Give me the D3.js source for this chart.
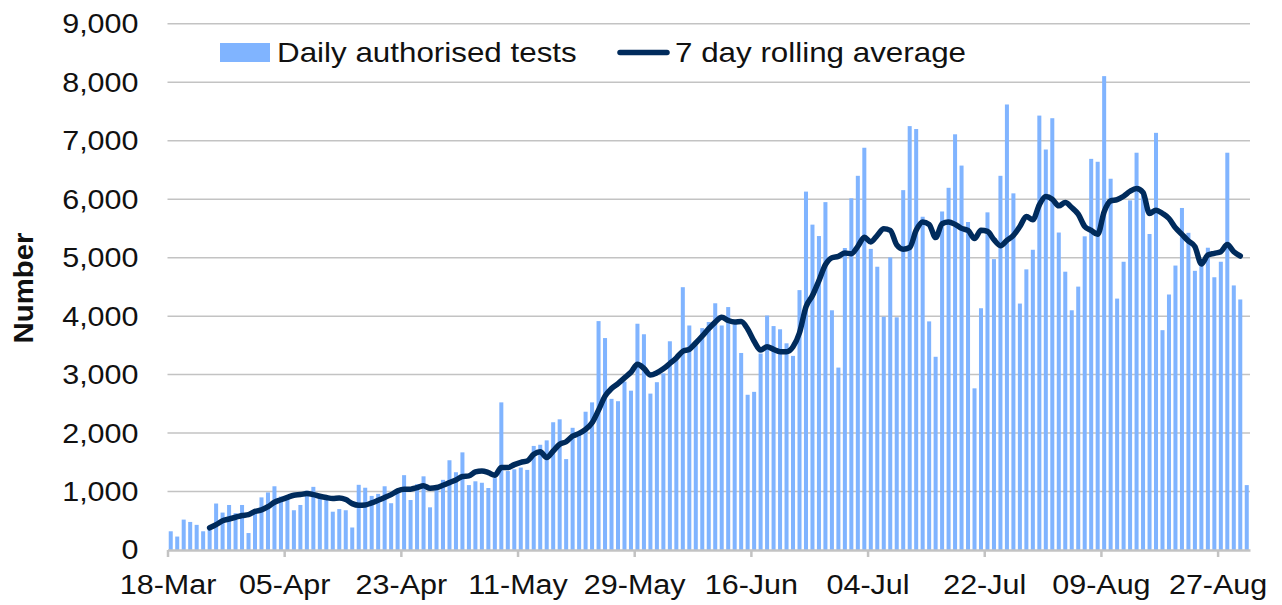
<!DOCTYPE html>
<html>
<head>
<meta charset="utf-8">
<script src="https://cdn.jsdelivr.net/npm/d3@7"></script>
<style>
  html, body { margin: 0; padding: 0; background: #fff; }
  svg { display: block; font-family: "Liberation Sans", Arial, sans-serif; }
</style>
</head>
<body>
<svg id="chart" width="1282" height="605"></svg>
<script>
// ---------------- DATA ----------------
const startDate = "2020-03-18";
const dayCount = 167;

const tickLabels = ["18-Mar","05-Apr","23-Apr","11-May","29-May","16-Jun","04-Jul","22-Jul","09-Aug","27-Aug"];
const tickEvery = 18;

const yTicks = [0,1000,2000,3000,4000,5000,6000,7000,8000,9000];

const dailyTests = [
  320,230,520,480,430,320,350,795,640,770,
  630,770,290,700,900,985,1090,915,880,680,
  770,1015,1080,930,900,655,700,680,385,1115,
  1065,925,960,1090,800,1000,1280,855,1125,1260,
  730,1060,1200,1535,1330,1670,1110,1175,1150,1060,
  1230,2525,1350,1380,1410,1370,1780,1800,1875,2185,
  2235,1555,2090,2000,2365,2525,3915,3625,2585,2545,
  2880,2725,3870,3690,2675,2870,3020,3570,3300,4495,
  3840,3500,3795,3900,4220,3840,4155,3880,3370,2655,
  2705,3360,4010,3830,3775,3535,3320,4445,6130,5565,
  5370,5950,4100,3120,5165,6015,6400,6880,5150,4845,
  3990,5005,3980,6155,7250,7200,5700,3910,3305,5790,
  6195,7110,6575,5610,2765,4135,5775,4975,6400,7620,
  6100,4215,4800,5135,7430,6850,7385,5430,4760,4100,
  4505,5365,6690,6640,8105,6350,4300,4930,5980,6795,
  6120,5405,7135,3760,4370,4865,5850,5425,4775,4950,
  5170,4665,4930,6795,4525,4285,1110
];

// 7 day rolling average (starts on day 7, ends the day before the last bar)
const rollingStart = 6;
const rollingAverage = [
  380,434,500,530,560,590,605,660,685,740,
  817,860,900,937,948,966,948,920,897,880,
  890,862,793,764,770,805,850,897,948,1011,
  1040,1040,1068,1097,1057,1068,1108,1153,1199,1256,
  1267,1335,1352,1324,1278,1409,1409,1460,1500,1523,
  1636,1682,1580,1693,1807,1852,1949,1994,2063,2176,
  2392,2631,2761,2847,2943,3040,3175,3105,2992,3031,
  3099,3190,3286,3399,3433,3541,3660,3785,3898,3983,
  3926,3898,3909,3780,3570,3420,3477,3432,3392,3392,
  3477,3716,4159,4352,4608,4881,5000,5023,5080,5068,
  5193,5350,5270,5382,5496,5467,5218,5144,5173,5467,
  5609,5569,5343,5580,5609,5569,5501,5467,5326,5470,
  5450,5307,5205,5295,5381,5534,5705,5648,5903,6045,
  6000,5886,5943,5858,5744,5534,5466,5400,5787,5972,
  5994,6051,6136,6182,6114,5756,5813,5756,5670,5511,
  5398,5284,5188,4892,5045,5074,5102,5227,5102,5028
];

const seriesNames = ["Daily authorised tests", "7 day rolling average"];
const yTitle = "Number";

// ---------------- STYLE ----------------
const barColor = "#80b4ff";
const lineColor = "#002b5c";
const gridColor = "#c3c3c3";
const textColor = "#111";
const fontSize = 28;
const stretch = 1.09;      // horizontal stretch of the reference's lettering
const legendStretch = 1.12;

// ---------------- BUILD ----------------
const parse = d3.utcParse("%Y-%m-%d");
const d0 = parse(startDate);
const dates = d3.range(dayCount).map(i => d3.utcDay.offset(d0, i));
const rows = dates.map((d, i) => ({ i, date: d, value: dailyTests[i] }));
const lineRows = rollingAverage.map((v, k) => ({ i: rollingStart + k, value: v }));

const svg = d3.select("#chart");
const pLeft = 167.5, pRight = 1250, pTop = 23.8, pBottom = 550;

const x = d3.scaleBand()
  .domain(rows.map(r => r.i))
  .range([pLeft, pRight])
  .paddingInner(0.38)
  .paddingOuter(0.19);

const xEdge = d3.scaleLinear().domain([0, dayCount]).range([pLeft, pRight]);

const y = d3.scaleLinear().domain([0, 9000]).range([pBottom, pTop]);

// gridlines
svg.append("g")
  .selectAll("line")
  .data(yTicks.filter(v => v > 0))
  .join("line")
  .attr("x1", pLeft).attr("x2", pRight)
  .attr("y1", d => y(d)).attr("y2", d => y(d))
  .attr("stroke", gridColor).attr("stroke-width", 1.5);

// bars
svg.append("g")
  .selectAll("rect")
  .data(rows)
  .join("rect")
  .attr("x", d => x(d.i))
  .attr("width", x.bandwidth())
  .attr("y", d => y(d.value))
  .attr("height", d => y(0) - y(d.value))
  .attr("fill", barColor);

// x axis
const tickIdx = tickLabels.map((_, k) => k * tickEvery);
const xAxis = d3.axisBottom(xEdge)
  .tickValues(tickIdx)
  .tickFormat((d, k) => tickLabels[k])
  .tickSize(7)
  .tickSizeOuter(0)
  .tickPadding(0);
const gx = svg.append("g").attr("transform", `translate(0,${pBottom})`).call(xAxis);
gx.select(".domain").attr("stroke", gridColor).attr("stroke-width", 2.5);
gx.selectAll(".tick line").attr("stroke", gridColor).attr("stroke-width", 2.5);
gx.selectAll(".tick text")
  .attr("y", 44)
  .attr("dy", null)
  .attr("transform", `scale(${stretch},1)`)
  .attr("fill", textColor)
  .style("font-size", fontSize + "px")
  .style("font-family", "Liberation Sans, Arial, sans-serif");

// y axis
const yAxis = d3.axisLeft(y)
  .tickValues(yTicks)
  .tickFormat(d3.format(","))
  .tickSize(0)
  .tickPadding(0);
const gy = svg.append("g").attr("transform", `translate(138.5,0)`).call(yAxis);
gy.select(".domain").remove();
gy.selectAll(".tick text")
  .attr("transform", `scale(${stretch},1)`)
  .attr("fill", textColor)
  .style("font-size", fontSize + "px")
  .style("font-family", "Liberation Sans, Arial, sans-serif");

// rolling average line
const line = d3.line()
  .x(d => x(d.i) + x.bandwidth() / 2)
  .y(d => y(d.value))
  .curve(d3.curveMonotoneX);
svg.append("path")
  .datum(lineRows)
  .attr("d", line)
  .attr("fill", "none")
  .attr("stroke", lineColor)
  .attr("stroke-width", 5.5)
  .attr("stroke-linejoin", "round")
  .attr("stroke-linecap", "round");

// y title
svg.append("text")
  .attr("transform", "translate(33,288) rotate(-90) scale(1.05,1)")
  .attr("text-anchor", "middle")
  .attr("fill", textColor)
  .style("font-size", fontSize + "px")
  .style("font-weight", "bold")
  .text(yTitle);

// legend
const lg = svg.append("g");
lg.append("rect").attr("x", 220).attr("y", 43).attr("width", 50).attr("height", 19).attr("fill", barColor);
lg.append("text").attr("transform", `translate(277,62) scale(${legendStretch},1)`).attr("fill", textColor)
  .style("font-size", fontSize + "px").text(seriesNames[0]);
lg.append("line").attr("x1", 620).attr("x2", 667).attr("y1", 52.5).attr("y2", 52.5)
  .attr("stroke", lineColor).attr("stroke-width", 5.5).attr("stroke-linecap", "round");
lg.append("text").attr("transform", `translate(675,62) scale(${legendStretch},1)`).attr("fill", textColor)
  .style("font-size", fontSize + "px").text(seriesNames[1]);
</script>
</body>
</html>
